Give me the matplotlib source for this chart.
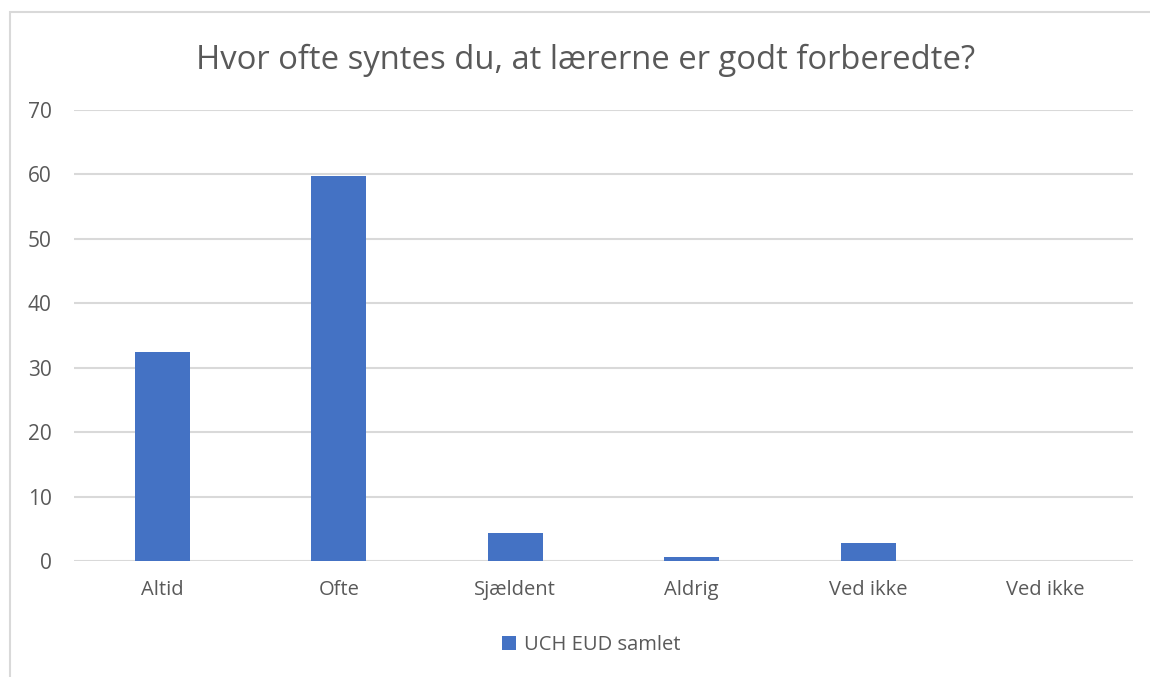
import matplotlib.pyplot as plt
from matplotlib.patches import Rectangle

categories = ['Altid', 'Ofte', 'Sjældent', 'Aldrig', 'Ved ikke', 'Ved ikke']
values = [32.5, 59.8, 4.3, 0.6, 2.8, 0.0]
series_name = 'UCH EUD samlet'
title = 'Hvor ofte syntes du, at lærerne er godt forberedte?'
yticks = [0, 10, 20, 30, 40, 50, 60, 70]

plt.rcParams['font.family'] = ['Open Sans', 'DejaVu Sans']
text_col = '#595959'
grid_col = '#D9D9D9'
bar_col = '#4472C4'

W, H = 1150, 677
fig = plt.figure(figsize=(W / 100, H / 100), dpi=100)

# chart area border (runs off the right and bottom of the picture)
fig.patches.append(Rectangle((10 / W, -0.1), 1.2, 1 - 12 / H + 0.1,
                             transform=fig.transFigure, fill=False,
                             edgecolor=grid_col, linewidth=1.5))

ax = fig.add_axes([74 / W, 1 - 561 / H, (1133 - 74) / W, (561 - 110) / H])
x = range(len(categories))
ax.bar(x, values, width=0.31, color=bar_col, label=series_name, zorder=3)
ax.set_xlim(-0.5, len(categories) - 0.5)
ax.set_ylim(0, 70)
ax.set_yticks(yticks)
ax.set_xticks(list(x))
ax.set_xticklabels(categories)
ax.yaxis.grid(True, color=grid_col, linewidth=1.5, zorder=0)
for s in ax.spines.values():
    s.set_visible(False)
ax.tick_params(length=0, colors=text_col, labelsize=14.5)
ax.tick_params(axis='y', pad=16, labelsize=15)
ax.tick_params(axis='x', pad=14)

fig.text(586 / W, 1 - 60 / H, title, ha='center', va='center',
         fontsize=23.6, color=text_col)

leg = fig.legend(loc='center', bbox_to_anchor=(591 / W, 1 - 645 / H),
                 frameon=False, fontsize=14.5, handlelength=0.7, handleheight=0.7,
                 handletextpad=0.4, labelcolor=text_col)

fig.savefig('out.png', dpi=100)
